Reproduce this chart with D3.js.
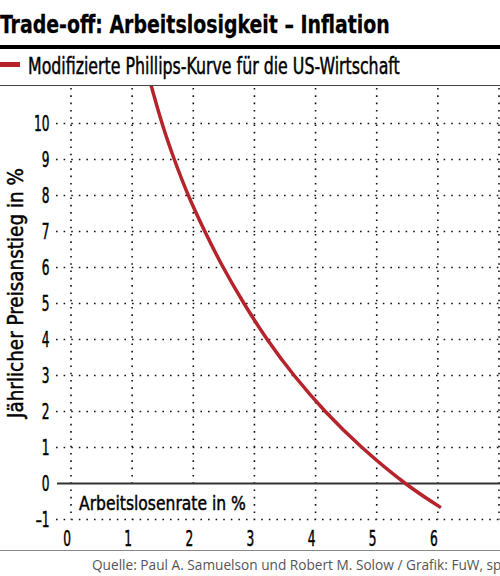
<!DOCTYPE html>
<html><head><meta charset="utf-8">
<script src="https://cdn.jsdelivr.net/npm/d3@7"></script>
<style>
html,body{margin:0;padding:0;background:#fff;}
svg{display:block;}
.c{font-family:"DejaVu Sans Condensed","DejaVu Sans",sans-serif;font-stretch:condensed;}
</style></head>
<body>
<script>
// Data
const unemployment = [1.31, 1.49, 1.69, 1.92, 2.19, 2.49, 2.83, 3.21, 3.65, 4.16, 4.76, 5.47, 6.05];
const inflation    = [11.06, 10, 9, 8, 7, 6, 5, 4, 3, 2, 1, 0, -0.67];
const xTicks = [0, 1, 2, 3, 4, 5, 6, 7];
const xTickLabels = ["0", "1", "2", "3", "4", "5", "6", ""];
const yTicks = [-1, 0, 1, 2, 3, 4, 5, 6, 7, 8, 9, 10];
const yTickLabels = ["–1", "0", "1", "2", "3", "4", "5", "6", "7", "8", "9", "10"];
const title = "Trade-off: Arbeitslosigkeit – Inflation";
const legendLabel = "Modifizierte Phillips-Kurve für die US-Wirtschaft";
const yTitle = "Jährlicher Preisanstieg in %";
const xTitle = "Arbeitslosenrate in %";
const source = "Quelle: Paul A. Samuelson und Robert M. Solow / Grafik: FuW, sp";

const W = 500, H = 576;
const RED = "#b5232b";
const svg = d3.select("body").append("svg").attr("width", W).attr("height", H);

// Condensed text: keep font-size (height), squeeze horizontally to target width
function squeezed(parent, str, px, py, fs, w, opts = {}) {
  const g = parent.append("g");
  const t = g.append("text").attr("class", "c").attr("font-size", fs).attr("fill", "#000")
    .attr("stroke", "#000").attr("stroke-width", opts.sw != null ? opts.sw : 0.45).text(str);
  if (opts.bold) t.attr("font-weight", "bold");
  if (opts.anchor) t.attr("text-anchor", opts.anchor);
  const len = t.node().getComputedTextLength();
  const s = w / len;
  g.attr("transform", `translate(${px},${py})${opts.rotate ? ` rotate(${opts.rotate})` : ""} scale(${s},1)`);
  return t;
}

const x = d3.scaleLinear().domain([0, 7]).range([71, 499]);
const y = d3.scaleLinear().domain([-1, 10]).range([519.5, 123.5]);
const plotTop = 85;

// Title
squeezed(svg, title, 0, 33.3, 24, 390, {bold: true, sw: 0.25});
svg.append("rect").attr("x", 0).attr("y", 45).attr("width", W).attr("height", 4).attr("fill", "#000");

// Legend
svg.append("rect").attr("x", 0).attr("y", 62).attr("width", 20).attr("height", 5).attr("fill", RED);
squeezed(svg, legendLabel, 28, 74, 22.5, 372);
svg.append("line").attr("x1", 0).attr("x2", W).attr("y1", plotTop + 0.5).attr("y2", plotTop + 0.5)
  .attr("stroke", "#444").attr("stroke-width", 1);

// Grid
const grid = svg.append("g");
grid.selectAll("line.v").data(xTicks).join("line").attr("class", "v")
  .attr("x1", d => x(d)).attr("x2", d => x(d))
  .attr("y1", plotTop + 3).attr("y2", y(-1))
  .attr("stroke", "#111").attr("stroke-width", 1.6).attr("stroke-dasharray", "1.6,5.7");
grid.selectAll("line.h").data(yTicks.filter(d => d !== 0)).join("line").attr("class", "h")
  .attr("x1", 56).attr("x2", W)
  .attr("y1", d => y(d)).attr("y2", d => y(d))
  .attr("stroke", "#111").attr("stroke-width", 1.6).attr("stroke-dasharray", "1.6,6");
svg.append("line").attr("x1", 57).attr("x2", W).attr("y1", y(0)).attr("y2", y(0))
  .attr("stroke", "#333").attr("stroke-width", 2);

// X title with white background
svg.append("rect").attr("fill", "#fff")
  .attr("x", 76).attr("y", y(0) + 4).attr("width", 173).attr("height", y(-1) - y(0) - 7);
squeezed(svg, xTitle, 79, 509.5, 20, 167);

// Axis labels
const DIGIT_SCALE = 0.66;
const yAxis = d3.axisLeft(y).tickValues(yTicks).tickFormat((d, i) => yTickLabels[i]).tickSize(0).tickPadding(0);
const ya = svg.append("g").attr("transform", "translate(49.5,0)").call(yAxis);
ya.select(".domain").remove();
ya.selectAll("text").attr("class", "c").attr("font-size", 20.5).attr("fill", "#000")
  .attr("stroke", "#000").attr("stroke-width", 0.45)
  .attr("dy", "0.36em").attr("transform", `scale(${DIGIT_SCALE},1)`);

const xAxis = d3.axisBottom(x).tickValues(xTicks).tickFormat((d, i) => xTickLabels[i]).tickSize(0).tickPadding(0);
const xa = svg.append("g").attr("transform", "translate(-4.5,531.5)").call(xAxis);
xa.select(".domain").remove();
xa.selectAll("text").attr("class", "c").attr("font-size", 20.5).attr("fill", "#000")
  .attr("stroke", "#000").attr("stroke-width", 0.45)
  .attr("dy", "0.73em").attr("transform", `scale(${DIGIT_SCALE},1)`);

// Y title
squeezed(svg, yTitle, 22.5, 293, 20.5, 250, {anchor: "middle", rotate: -90});

// Curve
svg.append("defs").append("clipPath").attr("id", "clip").append("rect")
  .attr("x", 0).attr("y", plotTop + 1).attr("width", W).attr("height", 460);
const pts = unemployment.map((u, i) => [u, inflation[i]]);
svg.append("path").datum(pts).attr("clip-path", "url(#clip)")
  .attr("d", d3.line().x(d => x(d[0])).y(d => y(d[1])).curve(d3.curveNatural))
  .attr("fill", "none").attr("stroke", RED).attr("stroke-width", 3.5).attr("stroke-linecap", "butt");

// Footer
svg.append("line").attr("x1", 0).attr("x2", W).attr("y1", 550.5).attr("y2", 550.5)
  .attr("stroke", "#888").attr("stroke-width", 1);
const src = svg.append("text").attr("x", 92).attr("y", 570)
  .attr("font-family", "'Open Sans','DejaVu Sans',sans-serif").attr("font-size", 13).attr("fill", "#555").text(source);
const sl = src.node().getComputedTextLength();
src.attr("font-size", 13 * 410 / sl);
</script>
</body></html>
